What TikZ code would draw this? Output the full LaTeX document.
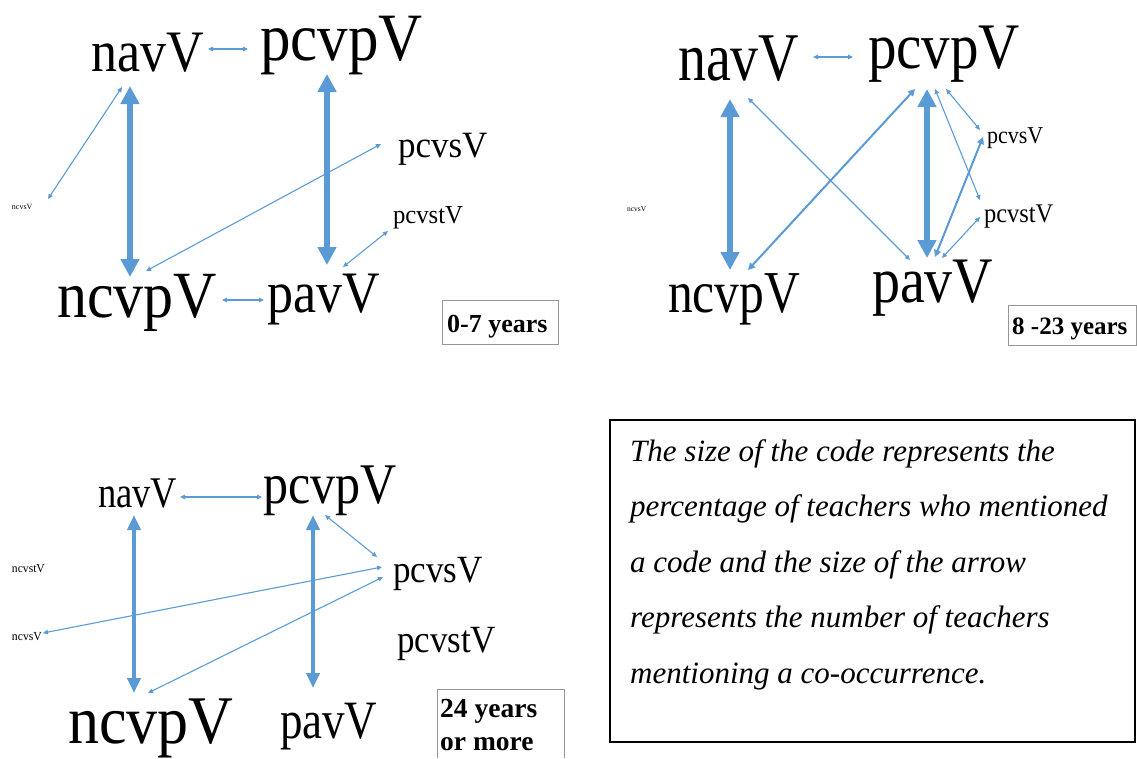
\documentclass[tikz,border=0pt]{standalone}
\usepackage{fontspec}
\setmainfont{Liberation Serif}
\usetikzlibrary{arrows.meta}
\definecolor{arrowblue}{RGB}{91,155,213}
\definecolor{boxgray}{RGB}{150,150,150}
% code label: font size, vertical stretch, text
\newcommand\codelabel[3]{\scalebox{1}[#2]{\fontsize{#1}{#1}\selectfont #3}}
\tikzset{
  code/.style={anchor=base west, inner sep=0pt, outer sep=0pt},
  thinlink/.style={draw=arrowblue, line width=1.1pt,
    {Triangle[width=4.5pt,length=5pt]}-{Triangle[width=4.5pt,length=5pt]}},
  midlink/.style={draw=arrowblue, line width=2pt,
    {Triangle[width=7pt,length=7pt]}-{Triangle[width=7pt,length=7pt]}},
  thicklink/.style={draw=arrowblue, line width=6pt,
    {Triangle[width=18pt,length=18pt]}-{Triangle[width=18pt,length=18pt]}},
  heavylink/.style={draw=arrowblue, line width=4.5pt,
    {Triangle[width=13pt,length=15pt]}-{Triangle[width=13pt,length=15pt]}},
  agebox/.style={draw=boxgray, line width=0.9pt},
  agetext/.style={anchor=base west, inner sep=0pt, font=\fontsize{26}{30}\selectfont\bfseries, align=left},
}
\begin{document}
\begin{tikzpicture}[x=1pt,y=-1pt]
\useasboundingbox (0,0) rectangle (1137,758);

% ---------- 0-7 years ----------
\node[code] (navA)   at (91,71)   {\codelabel{52}{1.13}{navV}};
\node[code] (pcvpA)  at (260,60)  {\codelabel{61}{1.11}{pcvpV}};
\node[code] (pcvsA)  at (398,157) {\codelabel{35}{1.06}{pcvsV}};
\node[code] (pcvstA) at (393,223) {\codelabel{24.7}{1.05}{pcvstV}};
\node[code] (ncvsA)  at (12,209)  {\codelabel{8}{1}{ncvsV}};
\node[code] (ncvpA)  at (57,317)  {\codelabel{60}{1.1}{ncvpV}};
\node[code] (pavA)   at (267,312) {\codelabel{52}{1.13}{pavV}};
\draw[agebox] (442,300) rectangle (558,344);
\node[agetext] (ageA) at (447,332) {0-7 years};

\coordinate (navA-e)   at (208,49);
\coordinate (pcvpA-w)  at (248,49);
\coordinate (navA-s)   at (130,86);
\coordinate (ncvpA-n)  at (130,277);
\coordinate (navA-sw)  at (122,87);
\coordinate (ncvsA-ne) at (48,199);
\coordinate (pcvsA-w)  at (381,144);
\coordinate (ncvpA-ne) at (146,271);
\coordinate (pcvpA-s)  at (327,74);
\coordinate (pavA-n)   at (327,265);
\coordinate (pcvstA-sw) at (388,231);
\coordinate (pavA-ne)  at (343,267);
\coordinate (ncvpA-e)  at (222,300);
\coordinate (pavA-w)   at (264,300);

\draw[thinlink]  (navA-e) -- (pcvpA-w);
\draw[thicklink] (navA-s) -- (ncvpA-n);
\draw[thinlink]  (navA-sw) -- (ncvsA-ne);
\draw[thinlink]  (pcvsA-w) -- (ncvpA-ne);
\draw[thicklink] (pcvpA-s) -- (pavA-n);
\draw[thinlink]  (pcvstA-sw) -- (pavA-ne);
\draw[thinlink]  (ncvpA-e) -- (pavA-w);

% ---------- 8-23 years ----------
\node[code] (navB)   at (678,80)  {\codelabel{56}{1.22}{navV}};
\node[code] (pcvpB)  at (868,68)  {\codelabel{57}{1.14}{pcvpV}};
\node[code] (ncvpB)  at (668,312) {\codelabel{49.5}{1.2}{ncvpV}};
\node[code] (pavB)   at (872,302) {\codelabel{56}{1.16}{pavV}};
\node[code] (pcvsB)  at (987,143) {\codelabel{22}{1.1}{pcvsV}};
\node[code] (pcvstB) at (984,222) {\codelabel{24.5}{1.1}{pcvstV}};
\node[code] (ncvsB)  at (627,211) {\codelabel{7.5}{1}{ncvsV}};
\draw[agebox] (1008,305) rectangle (1136,345);
\node[agetext, font=\fontsize{25}{30}\selectfont\bfseries] (ageB) at (1012,334) {8 -23 years};

\coordinate (navB-e)    at (813,57);
\coordinate (pcvpB-w)   at (853,57);
\coordinate (navB-s)    at (730,99);
\coordinate (ncvpB-n)   at (730,270);
\coordinate (navB-se)   at (748,98);
\coordinate (pavB-nw)   at (910,260);
\coordinate (ncvpB-ne)  at (748,270);
\coordinate (pcvpB-sw)  at (915,89);
\coordinate (pcvpB-s)   at (927,89);
\coordinate (pavB-n)    at (927,258);
\coordinate (pcvpB-se)  at (935,89);
\coordinate (pcvstB-nw) at (980,200);
\coordinate (pcvpB-se2) at (946,89);
\coordinate (pcvsB-w)   at (980,130);
\coordinate (pavB-ne)   at (935,257);
\coordinate (pcvsB-sw)  at (983,137);
\coordinate (pavB-ne2)  at (942,258);
\coordinate (pcvstB-sw) at (980,217);

\draw[thinlink]  (navB-e) -- (pcvpB-w);
\draw[thicklink] (navB-s) -- (ncvpB-n);
\draw[thinlink]  (navB-se) -- (pavB-nw);
\draw[midlink]   (ncvpB-ne) -- (pcvpB-sw);
\draw[thicklink] (pcvpB-s) -- (pavB-n);
\draw[thinlink]  (pcvpB-se) -- (pcvstB-nw);
\draw[thinlink]  (pcvpB-se2) -- (pcvsB-w);
\draw[midlink]   (pavB-ne) -- (pcvsB-sw);
\draw[thinlink]  (pavB-ne2) -- (pcvstB-sw);

% ---------- 24 years or more ----------
\node[code] (navC)   at (98,507)  {\codelabel{36.5}{1.2}{navV}};
\node[code] (pcvpC)  at (263,503) {\codelabel{50}{1.15}{pcvpV}};
\node[code] (ncvstC) at (12,572)  {\codelabel{11.6}{1.05}{ncvstV}};
\node[code] (ncvsC)  at (12,640)  {\codelabel{11.7}{1.05}{ncvsV}};
\node[code] (pcvsC)  at (393,582) {\codelabel{35}{1.1}{pcvsV}};
\node[code] (pcvstC) at (397,652) {\codelabel{35}{1.1}{pcvstV}};
\node[code] (ncvpC)  at (68,743)  {\codelabel{62}{1.1}{ncvpV}};
\node[code] (pavC)   at (280,738) {\codelabel{45}{1.2}{pavV}};
\draw[agebox] (437,758) -- (437,689) -- (564,689) -- (564,758);
% multi-line nodes sit on the baseline of their last line
\node[agetext, font=\fontsize{27.5}{33}\selectfont\bfseries] (ageC) at (440,750) {24 years\\or more};

\coordinate (navC-e)   at (180,497);
\coordinate (pcvpC-w)  at (262,497);
\coordinate (navC-s)   at (134,515);
\coordinate (ncvpC-n)  at (134,693);
\coordinate (ncvsC-e)  at (43,633);
\coordinate (pcvsC-w)  at (382,567);
\coordinate (ncvpC-ne) at (148,693);
\coordinate (pcvsC-sw) at (383,577);
\coordinate (pcvpC-se) at (325,515);
\coordinate (pcvsC-nw) at (377,557);
\coordinate (pcvpC-s)  at (313,515);
\coordinate (pavC-n)   at (313,688);

\draw[thinlink]  (navC-e) -- (pcvpC-w);
\draw[heavylink] (navC-s) -- (ncvpC-n);
\draw[thinlink]  (ncvsC-e) -- (pcvsC-w);
\draw[thinlink]  (ncvpC-ne) -- (pcvsC-sw);
\draw[thinlink]  (pcvpC-se) -- (pcvsC-nw);
\draw[heavylink] (pcvpC-s) -- (pavC-n);

% ---------- legend ----------
\draw[line width=1.6pt] (610,420) rectangle (1135,742);
\node[anchor=base west, inner sep=0pt, align=left,
      font=\fontsize{31}{55.5}\selectfont\itshape] (legend) at (630,683)
  {The size of the code represents the\\
   percentage of teachers who mentioned\\
   a code and the size of the arrow\\
   represents the number of teachers\\
   mentioning a co-occurrence.};
\end{tikzpicture}
\end{document}
